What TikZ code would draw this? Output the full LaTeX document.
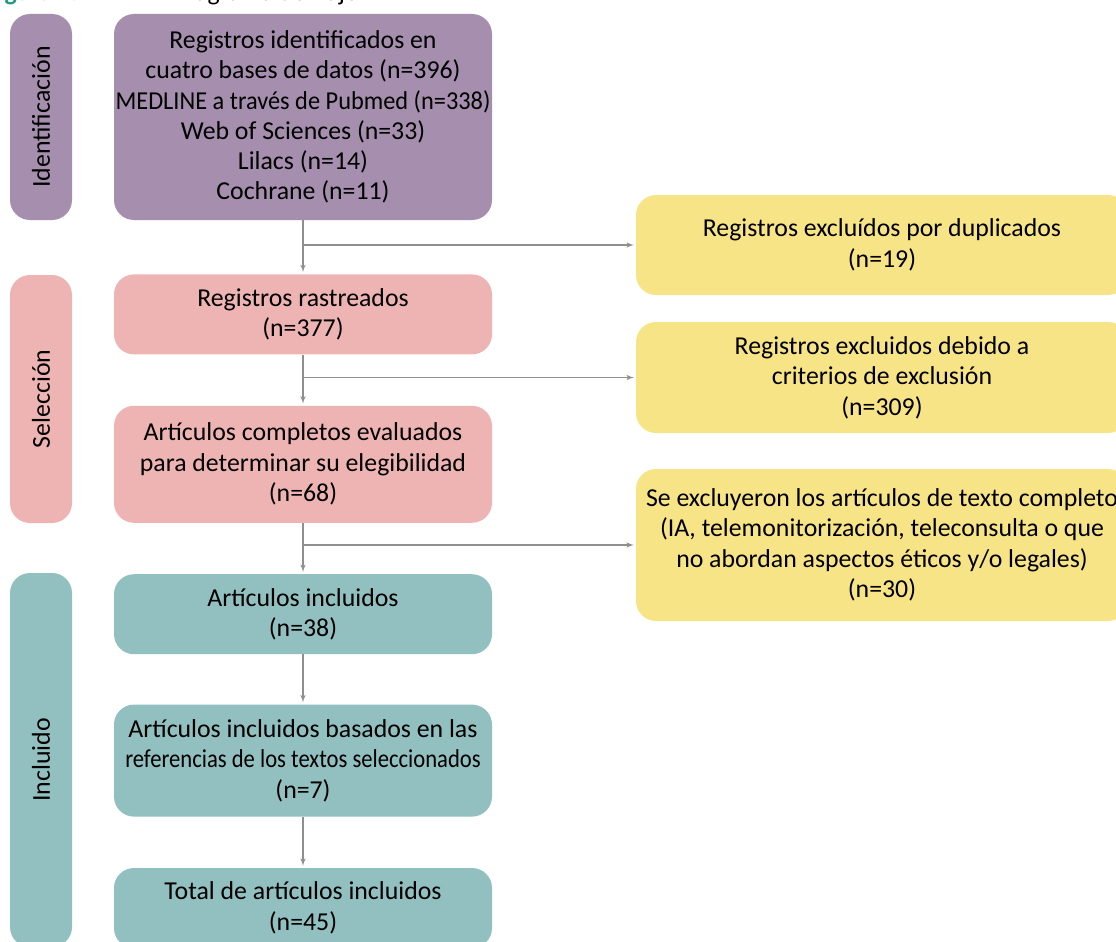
\documentclass[tikz,border=0pt]{standalone}
\usepackage{fontspec}
\setmainfont{Carlito}
\usepackage{tikz}
\usetikzlibrary{arrows,positioning}
\definecolor{idcolor}{HTML}{A68FAE}
\definecolor{selcolor}{HTML}{EEB4B3}
\definecolor{inccolor}{HTML}{92BFBF}
\definecolor{exccolor}{HTML}{F6E487}
\definecolor{flechacolor}{HTML}{8F8F8F}
\definecolor{titlecolor}{HTML}{1F9B7D}
\tikzstyle{every node}=[font=\fontsize{25.8}{30.5}\selectfont]
\tikzstyle{paso}=[rectangle,
                                    rounded corners=20pt,
                                    minimum width=378pt,
                                    align=center,
                                    inner sep=0pt
                                    ]
\tikzstyle{fase}=[rectangle,
                                    rounded corners=20pt,
                                    rotate=90,
                                    minimum height=62pt,
                                    inner sep=0pt
                                    ]
\tikzstyle{excluido}=[rectangle,
                                    rounded corners=20pt,
                                    fill=exccolor,
                                    minimum width=492pt,
                                    align=center,
                                    inner sep=0pt
                                    ]
\tikzstyle{flecha}=[line width=1.5pt,draw=flechacolor,shorten >=2pt]

\begin{document}
\begin{tikzpicture}[x=1pt,y=-1pt,node distance=51pt,>=latex']
\clip (0,0) rectangle (1116,942);
\node (fig)   [anchor=base west,text=titlecolor,font=\fontsize{25.8}{30}\selectfont\bfseries] at (-17,1) {Figura 1.};
\node (titulo) [anchor=base west] at (170,1) {Diagrama de flujo};
% etapas
\node (ident) [paso,fill=idcolor,minimum height=206pt,font=\fontsize{25.8}{30.2}\selectfont] at (303,117) {Registros identificados en\\cuatro bases de datos (n=396)\\\scalebox{0.944}[1]{MEDLINE a través de Pubmed (n=338)}\\Web of Sciences (n=33)\\Lilacs (n=14)\\Cochrane (n=11)};
\node (rastreados) [paso,fill=selcolor,minimum height=80pt,below=54pt of ident] {Registros rastreados\\(n=377)};
\node (completos) [paso,fill=selcolor,minimum height=117pt,below=of rastreados] {Artículos completos evaluados\\para determinar su elegibilidad\\(n=68)};
\node (incluidos) [paso,fill=inccolor,minimum height=80pt,below=of completos] {Artículos incluidos\\(n=38)};
\node (basados) [paso,fill=inccolor,minimum height=112pt,below=50pt of incluidos] {Artículos incluidos basados en las\\\scalebox{0.877}[1]{referencias de los textos seleccionados}\\(n=7)};
\node (total) [paso,fill=inccolor,minimum height=80pt,below=of basados] {Total de artículos incluidos\\(n=45)};
% fases
\node (faseid)  [fase,fill=idcolor,minimum width=206pt] at (41,117) {Identificación};
\node (fasesel) [fase,fill=selcolor,minimum width=248pt] at (41,399) {Selección};
\node (faseinc) [fase,fill=inccolor,minimum width=374pt] at (41,760) {Incluido};
% excluidos
\node (duplicados) [excluido,minimum height=100pt] at (882,245) {Registros excluídos por duplicados\\(n=19)};
\node (criterios)  [excluido,minimum height=111pt] at (882,377.5) {Registros excluidos debido a\\criterios de exclusión\\(n=309)};
\node (texto)      [excluido,minimum height=152pt] at (882,545) {Se excluyeron los artículos de texto completo\\(IA, telemonitorización, teleconsulta o que\\no abordan aspectos éticos y/o legales)\\(n=30)};
 \path[->] (ident) edge[flecha] (rastreados);
 \path[->] (rastreados) edge[flecha] (completos);
 \path[->] (completos) edge[flecha] (incluidos);
 \path[->] (incluidos) edge[flecha] (basados);
 \path[->] (basados) edge[flecha] (total);
 \path[->] (ident.south |- duplicados.west) edge[flecha] (duplicados.west);
 \path[->] (rastreados.south |- criterios.west) edge[flecha] (criterios.west);
 \path[->] (completos.south |- texto.west) edge[flecha] (texto.west);
\end{tikzpicture}
\end{document}
